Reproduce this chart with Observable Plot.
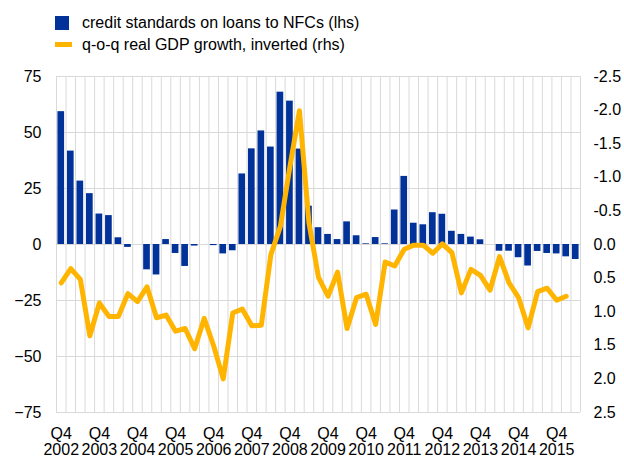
<!DOCTYPE html>
<html><head><meta charset="utf-8">
<script src="https://cdn.jsdelivr.net/npm/d3@7"></script>
<script src="https://cdn.jsdelivr.net/npm/@observablehq/plot@0.6"></script>
<style>
body{margin:0;background:#fff;font-family:"Liberation Sans",Arial,sans-serif;}
#legend{position:relative;height:56px;width:624px;font-size:16px;color:#000}
#legend div{position:absolute;white-space:nowrap}
#chart svg{display:block;overflow:visible}
</style></head><body>
<div id="legend">
 <div style="left:55px;top:16px;width:14px;height:14px;background:#003299"></div>
 <div style="left:82px;top:14px;line-height:18px">credit standards on loans to NFCs (lhs)</div>
 <div style="left:55px;top:42px;width:17px;height:5px;background:#ffb400"></div>
 <div style="left:82px;top:36px;line-height:18px">q-o-q real GDP growth, inverted (rhs)</div>
</div>
<div id="chart"></div>
<script>
const quarters = ["2002Q4",
 "2003Q1","2003Q2","2003Q3","2003Q4",
 "2004Q1","2004Q2","2004Q3","2004Q4",
 "2005Q1","2005Q2","2005Q3","2005Q4",
 "2006Q1","2006Q2","2006Q3","2006Q4",
 "2007Q1","2007Q2","2007Q3","2007Q4",
 "2008Q1","2008Q2","2008Q3","2008Q4",
 "2009Q1","2009Q2","2009Q3","2009Q4",
 "2010Q1","2010Q2","2010Q3","2010Q4",
 "2011Q1","2011Q2","2011Q3","2011Q4",
 "2012Q1","2012Q2","2012Q3","2012Q4",
 "2013Q1","2013Q2","2013Q3","2013Q4",
 "2014Q1","2014Q2","2014Q3","2014Q4",
 "2015Q1","2015Q2","2015Q3","2015Q4",
 "2016Q1","2016Q2"];
// credit standards on loans to NFCs (lhs, net percentages)
const credit = [59.3, 41.7, 28.3, 22.7, 13.6, 12.9, 3.0, -1.3, 0, -11.3, -13.6, 2.2, -4.0,
 -9.8, -0.7, 0, -0.5, -4.2, -2.8, 31.5, 42.7, 50.7, 43.5, 68.0, 64.0, 42.6, 17.1, 7.5, 4.5,
 2.2, 10.1, 3.9, 0.3, 3.1, 0.3, 15.4, 30.4, 9.5, 8.8, 14.2, 13.5, 5.9, 4.5, 3.3, 2.1, 0,
 -3.0, -3.0, -5.9, -9.6, -3.1, -4.0, -4.2, -5.5, -6.7];
// q-o-q real GDP growth (rhs, plotted on an inverted axis)
const gdp = [0.57, 0.36, 0.52, 1.36, 0.87, 1.07, 1.07, 0.73, 0.85, 0.63, 1.09, 1.05, 1.29,
 1.25, 1.55, 1.10, 1.51, 2.00, 1.02, 0.96, 1.21, 1.20, 0.15, -0.27, -1.16, -1.99, -0.32, 0.49,
 0.77, 0.41, 1.25, 0.79, 0.74, 1.19, 0.26, 0.32, 0.07, 0.01, 0.01, 0.13, -0.01, 0.12, 0.72,
 0.37, 0.46, 0.68, 0.18, 0.57, 0.79, 1.24, 0.70, 0.65, 0.83, 0.77, null];
const leftTicks = [-75, -50, -25, 0, 25, 50, 75];
const rightTicks = [-2.5, -2.0, -1.5, -1.0, -0.5, 0.0, 0.5, 1.0, 1.5, 2.0, 2.5];
const xTicks = quarters.filter(q => q.endsWith("Q4") && q <= "2015Q4");

const ratio = 30; // 75 lhs units <-> 2.5 rhs units, inverted
const W = 624, H = 402, ML = 56, MR = 44, MT = 20, MB = 46;
const step = (W - ML - MR) / quarters.length;
const data = quarters.map((q, i) => ({q, credit: credit[i], gdp: gdp[i]}));
const grid = "#d9d9d9";

const chart = Plot.plot({
  width: W, height: H,
  marginLeft: ML, marginRight: MR, marginTop: MT, marginBottom: MB,
  style: {fontFamily: "'Liberation Sans', Arial, sans-serif", fontSize: "16px", color: "#000", background: "#fff"},
  x: {type: "band", domain: quarters, paddingInner: 0.3, paddingOuter: 0.15, align: 0.5, round: false},
  y: {domain: [-75, 75]},
  marks: [
    Plot.ruleY(leftTicks, {stroke: grid, strokeWidth: 1}),
    Plot.ruleX(quarters, {x: d => d, dx: -step / 2, stroke: grid, strokeWidth: 1}),
    Plot.ruleX(quarters.slice(-1), {x: d => d, dx: step / 2, stroke: grid, strokeWidth: 1}),
    Plot.barY(data, {x: "q", y: "credit", fill: "#003299"}),
    Plot.line(data, {x: "q", y: d => d.gdp == null ? NaN : -ratio * d.gdp, stroke: "#ffb400", strokeWidth: 5}),
    Plot.axisY(leftTicks, {anchor: "left", tickSize: 0, tickPadding: 15, label: null}),
    Plot.axisY(rightTicks.map(r => -ratio * r), {anchor: "right", tickSize: 0, tickPadding: 13, label: null,
      tickFormat: v => (-v / ratio).toFixed(1)}),
    Plot.axisX(xTicks, {anchor: "bottom", tickSize: 0, tickPadding: 15, label: null, tickFormat: d => d.slice(4)}),
    Plot.axisX(xTicks, {anchor: "bottom", tickSize: 0, tickPadding: 31, label: null, tickFormat: d => d.slice(0, 4)})
  ]
});
document.getElementById("chart").appendChild(chart);
</script>
</body></html>
